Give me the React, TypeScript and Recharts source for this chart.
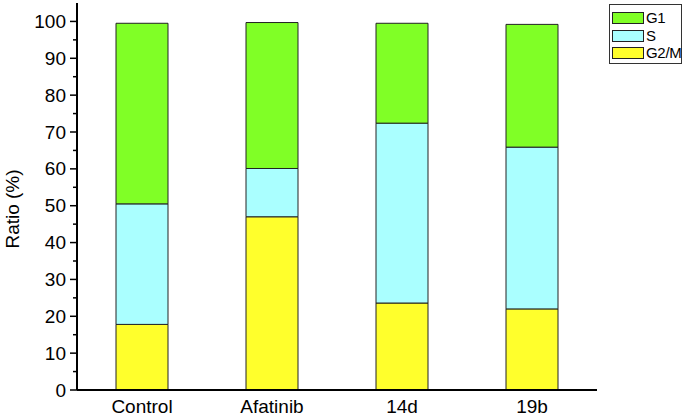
import { BarChart, Bar, XAxis, YAxis, Label } from 'recharts'

const categories = ['Control', 'Afatinib', '14d', '19b']
const g2mValues = [17.8, 47.0, 23.6, 22.0]
const sValues = [32.7, 13.1, 48.8, 43.9]
const g1Values = [49.0, 39.6, 27.1, 33.3]
const yTicks = [0, 5, 10, 15, 20, 25, 30, 35, 40, 45, 50, 55, 60, 65, 70, 75, 80, 85, 90, 95, 100]

const COLORS = { G1: '#80FF26', S: '#AAFFFF', G2M: '#FFFF2C' }
const FONT = '"Liberation Sans", Arial, sans-serif'

const data = categories.map((name, i) => ({
  name,
  G2M: g2mValues[i],
  S: sValues[i],
  G1: g1Values[i],
}))

const legendItems = [
  { label: 'G1', color: COLORS.G1 },
  { label: 'S', color: COLORS.S },
  { label: 'G2/M', color: COLORS.G2M },
]

const YTick = (props: any) => {
  const { x, y, payload } = props
  const axisX = x + 11
  const major = payload.value % 10 === 0
  return (
    <g>
      <line x1={axisX - (major ? 7 : 4)} x2={axisX} y1={y} y2={y} stroke="#000" strokeWidth={1.5} />
      {major && (
        <text x={x} y={y} textAnchor="end" dominantBaseline="central" fontSize={19} fontFamily={FONT} fill="#000">
          {payload.value}
        </text>
      )}
    </g>
  )
}

// legend drawn as an overlay so it does not eat chart height
const LegendBox = () => (
  <div
    style={{
      position: 'absolute',
      left: 609,
      top: 4,
      width: 71,
      height: 58,
      border: '1px solid #333',
      fontFamily: FONT,
      fontSize: 15,
      background: '#fff',
    }}
  >
    {legendItems.map((item, i) => (
      <div key={item.label} style={{ position: 'absolute', left: 2, top: 7 + i * 17.5, display: 'flex', alignItems: 'center' }}>
        <div style={{ width: 30, height: 10, background: item.color, border: '1px solid #222' }} />
        <span style={{ marginLeft: 2, lineHeight: '12px', letterSpacing: -0.3 }}>{item.label}</span>
      </div>
    ))}
  </div>
)

const App = () => (
  <div style={{ position: 'absolute', left: 0, top: 0, width: 688, height: 418 }}>
    <BarChart width={688} height={418} data={data} margin={{ top: 3, right: 91, bottom: 0, left: 0 }} barCategoryGap="30%">
      <XAxis
        dataKey="name"
        height={28}
        tickLine={false}
        tickSize={0}
        tickMargin={10}
        axisLine={{ stroke: '#000', strokeWidth: 2 }}
        tick={{ fontSize: 19, fontFamily: FONT, fill: '#000' }}
        interval={0}
      />
      <XAxis xAxisId="top" orientation="top" height={0} tick={false} tickLine={false} axisLine={{ stroke: '#000', strokeWidth: 2 }} />
      <YAxis
        width={77}
        domain={[0, 105]}
        ticks={yTicks}
        interval={0}
        tickSize={7}
        tickMargin={4}
        tickLine={false}
        axisLine={{ stroke: '#000', strokeWidth: 2 }}
        tick={<YTick />}
      >
        <Label
          content={() => (
            <text
              x={12}
              y={209}
              transform="rotate(-90 12 209)"
              textAnchor="middle"
              dominantBaseline="central"
              fontSize={19}
              fontFamily={FONT}
              fill="#000"
            >
              Ratio (%)
            </text>
          )}
        />
      </YAxis>
      <YAxis yAxisId="right" orientation="right" width={0} tick={false} tickLine={false} axisLine={{ stroke: '#000', strokeWidth: 2 }} />
      <Bar dataKey="G2M" stackId="a" fill={COLORS.G2M} stroke="#222" strokeWidth={1} isAnimationActive={false} />
      <Bar dataKey="S" stackId="a" fill={COLORS.S} stroke="#222" strokeWidth={1} isAnimationActive={false} />
      <Bar dataKey="G1" stackId="a" fill={COLORS.G1} stroke="#222" strokeWidth={1} isAnimationActive={false} />
    </BarChart>
    <LegendBox />
  </div>
)

export default App
